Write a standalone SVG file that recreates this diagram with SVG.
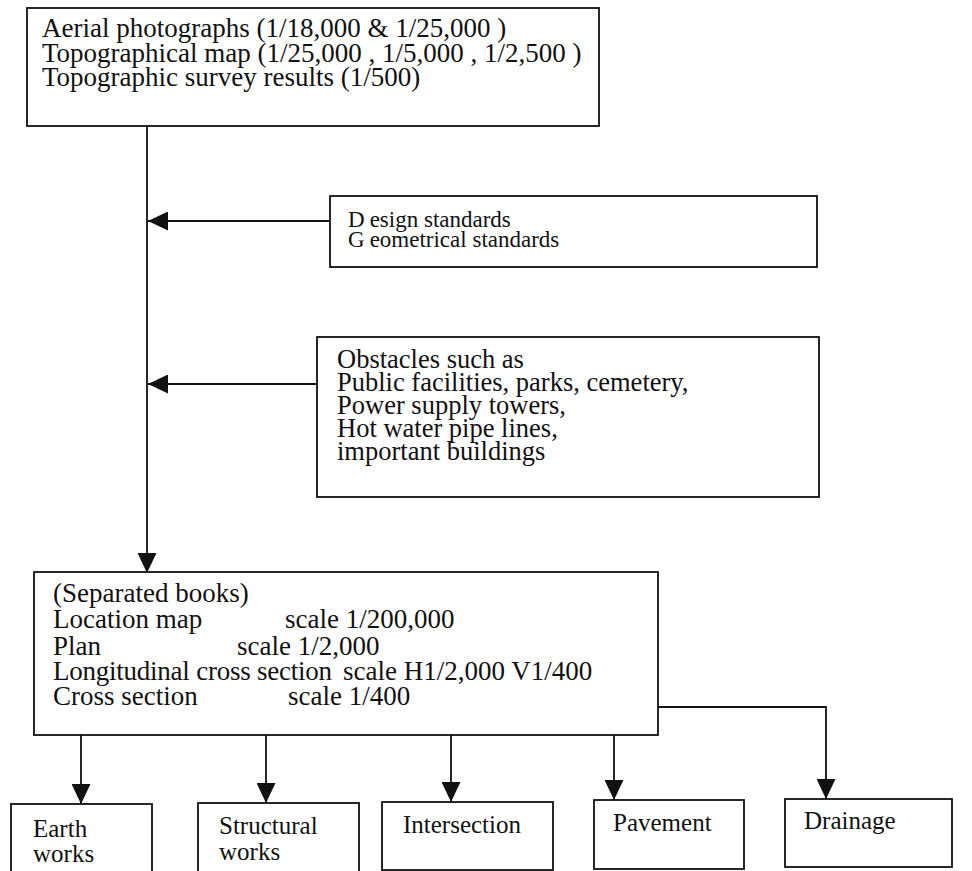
<svg xmlns="http://www.w3.org/2000/svg" width="972" height="871" viewBox="0 0 972 871">
<defs>
<marker id="ah" markerUnits="userSpaceOnUse" markerWidth="20" markerHeight="19" refX="20" refY="9.5" orient="auto">
<path d="M0,0 L20,9.5 L0,19 z" fill="#111"/>
</marker>
</defs>
<style>
.box{fill:#fff;stroke:#111;stroke-width:1.8}
.t{font-family:"Liberation Serif","Times New Roman",serif;fill:#111}
.big{font-size:27px}
.mid{font-size:26.5px}
.sm{font-size:23px}
.lbl{font-size:25px}
.con{fill:none;stroke:#111;stroke-width:1.8}
</style>
<rect width="972" height="871" fill="#fff"/>
<g id="connectors">
<path class="con" d="M147,126 V573" marker-end="url(#ah)"/>
<path class="con" d="M330,221 H148" marker-end="url(#ah)"/>
<path class="con" d="M317,384 H148" marker-end="url(#ah)"/>
<path class="con" d="M81,735 V804" marker-end="url(#ah)"/>
<path class="con" d="M266,735 V803" marker-end="url(#ah)"/>
<path class="con" d="M451,735 V802" marker-end="url(#ah)"/>
<path class="con" d="M614,735 V800" marker-end="url(#ah)"/>
<path class="con" d="M658,707 H826 V799" marker-end="url(#ah)"/>
</g>
<g id="sources">
<rect class="box" x="27" y="8" width="572" height="118"/>
<text class="t big" x="42" y="37">Aerial photographs  (1/18,000 &amp; 1/25,000 )</text>
<text class="t big" x="42" y="62">Topographical map (1/25,000 , 1/5,000 , 1/2,500 )</text>
<text class="t big" x="42" y="86">Topographic survey results (1/500)</text>
</g>
<g id="standards">
<rect class="box" x="330" y="196" width="487" height="71"/>
<text class="t sm" x="348" y="227">D<tspan dx="5">esign standards</tspan></text>
<text class="t sm" x="348" y="247">G<tspan dx="5">eometrical standards</tspan></text>
</g>
<g id="obstacles">
<rect class="box" x="317" y="337" width="502" height="160"/>
<text class="t mid" x="337" y="368">Obstacles such as</text>
<text class="t mid" x="337" y="391">Public facilities, parks, cemetery,</text>
<text class="t mid" x="337" y="414">Power supply towers,</text>
<text class="t mid" x="337" y="437">Hot water pipe lines,</text>
<text class="t mid" x="337" y="460">important buildings</text>
</g>
<g id="books">
<rect class="box" x="34" y="572" width="624" height="163"/>
<text class="t big" x="53" y="602">(Separated books)</text>
<text class="t big" x="53" y="628">Location map</text>
<text class="t big" x="285" y="628">scale 1/200,000</text>
<text class="t big" x="53" y="655">Plan</text>
<text class="t big" x="237" y="655">scale  1/2,000</text>
<text class="t big" x="53" y="680" textLength="279">Longitudinal cross section</text>
<text class="t big" x="343" y="680">scale H1/2,000 V1/400</text>
<text class="t big" x="53" y="705">Cross section</text>
<text class="t big" x="288" y="705">scale 1/400</text>
</g>
<g id="earth">
<rect class="box" x="11" y="804" width="141" height="80"/>
<text class="t lbl" x="33" y="837">Earth</text>
<text class="t lbl" x="33" y="862">works</text>
</g>
<g id="structural">
<rect class="box" x="198" y="803" width="161" height="81"/>
<text class="t lbl" x="219" y="834">Structural</text>
<text class="t lbl" x="219" y="860">works</text>
</g>
<g id="intersection">
<rect class="box" x="382" y="802" width="171" height="68"/>
<text class="t lbl" x="403" y="833">Intersection</text>
</g>
<g id="pavement">
<rect class="box" x="594" y="800" width="150" height="69"/>
<text class="t lbl" x="613" y="831">Pavement</text>
</g>
<g id="drainage">
<rect class="box" x="785" y="799" width="167" height="68"/>
<text class="t lbl" x="804" y="829">Drainage</text>
</g>
</svg>
